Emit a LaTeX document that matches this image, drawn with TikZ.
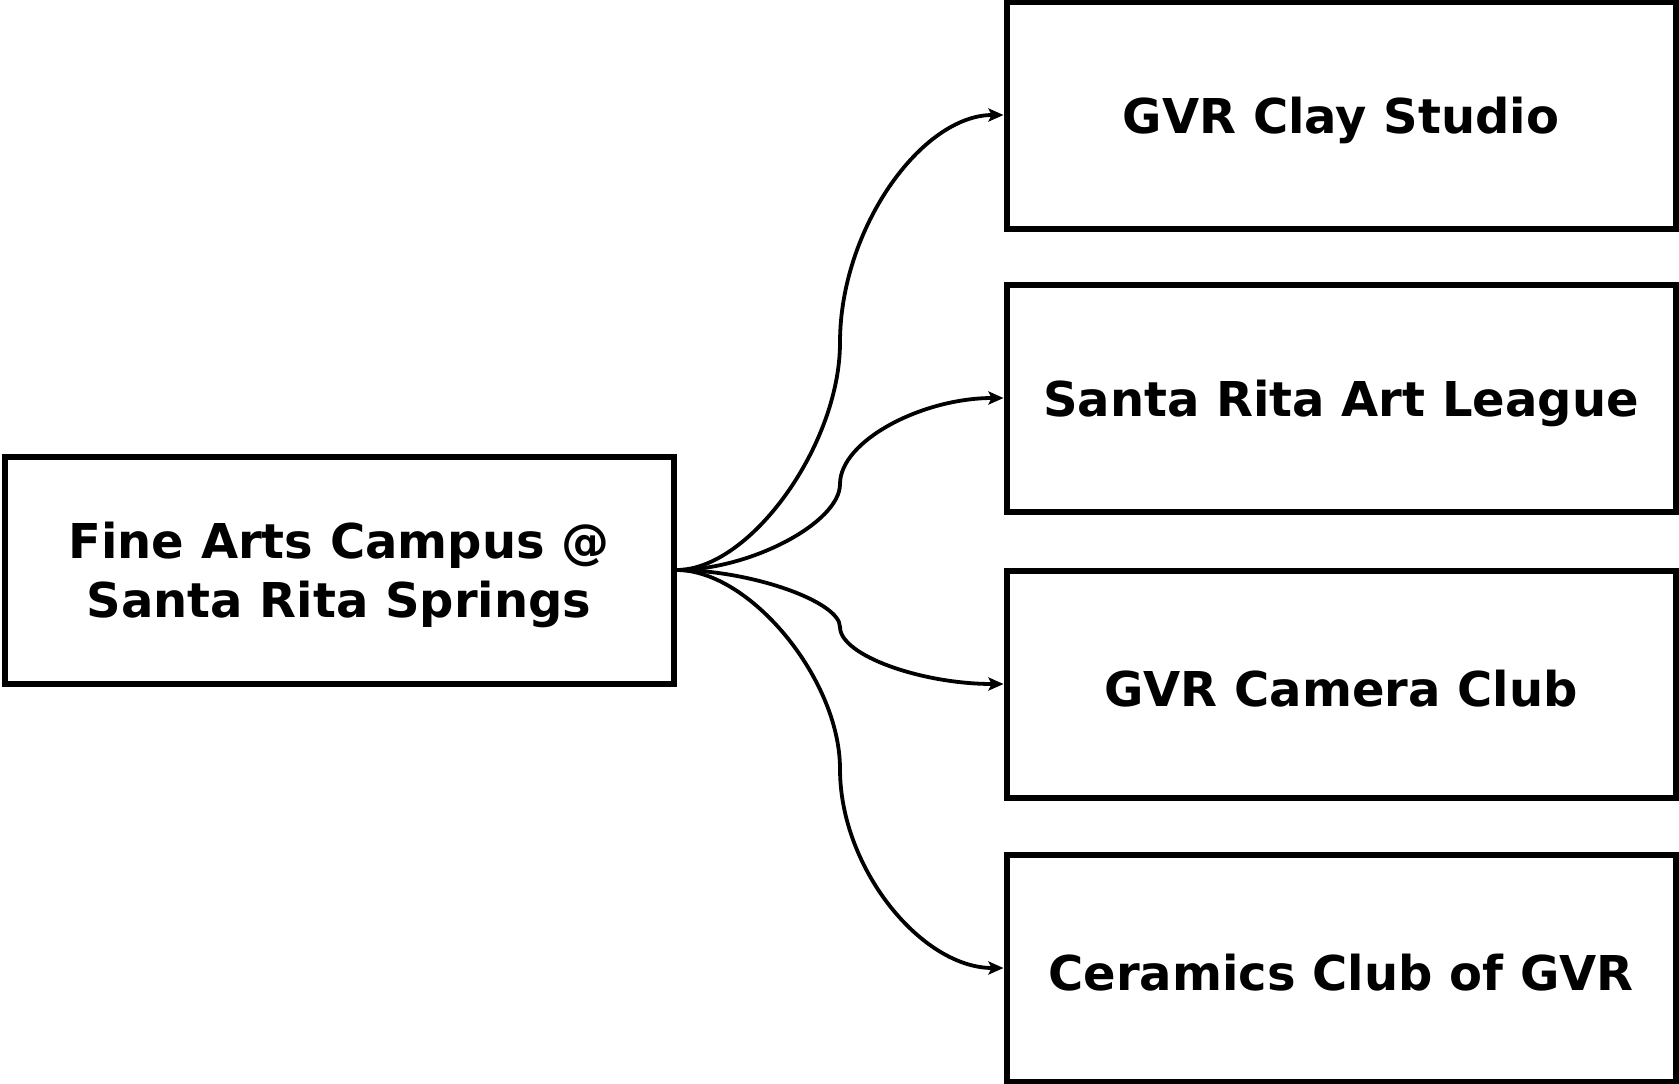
\documentclass[tikz,border=0pt]{standalone}
\usepackage{fontspec}
\setmainfont{DejaVu Sans}
\usetikzlibrary{arrows.meta,calc}
\begin{document}
\begin{tikzpicture}[x=1pt,y=-1pt,
  box/.style={draw=black,line width=6pt,fill=white,minimum width=669pt,minimum height=227pt,inner sep=0pt},
  txt/.style={inner sep=0pt,align=center,yshift=-5pt,font=\fontsize{48}{59}\selectfont\bfseries},
  conn/.style={draw=black,line width=3.8pt,-{Stealth[length=15pt,width=13pt,inset=3pt]}}
]
\useasboundingbox[fill=white] (0,0) rectangle (1679,1084);
\node[box] (src) at (339,570) {};
\node[box] (t1) at (1341,115) {};
\node[box] (t2) at (1341,398) {};
\node[box] (t3) at (1341,684) {};
\node[box] (t4) at (1341,968) {};
\node[txt] (srcl) at (src.center) {Fine Arts Campus @\\Santa Rita Springs};
\node[txt] (t1l) at (t1.center) {GVR Clay Studio};
\node[txt] (t2l) at (t2.center) {Santa Rita Art League};
\node[txt] (t3l) at (t3.center) {GVR Camera Club};
\node[txt] (t4l) at (t4.center) {Ceramics Club of GVR};
\coordinate (mx) at (840,0);
\foreach \t in {t1,t2,t3,t4}{
  \coordinate (c0) at (mx |- src.east);
  \coordinate (c1) at (mx |- \t.west);
  \coordinate (m) at ($(c0)!0.5!(c1)$);
  \draw[conn] (src.east) .. controls ($(src.east)!0.45!(c0)$) and ($(m)!0.45!(c0)$) .. (m)
     .. controls ($(m)!0.5!(c1)$) and ($(\t.west)!0.5!(c1)$) .. (\t.west);
}
\end{tikzpicture}
\end{document}
